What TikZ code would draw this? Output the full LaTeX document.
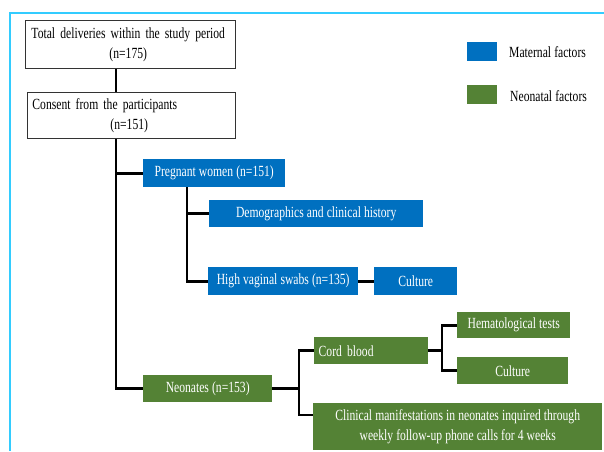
\documentclass[tikz,border=0pt]{standalone}
\usepackage{fontspec}
\setmainfont{Liberation Serif}[FakeStretch=0.75]
\usetikzlibrary{calc}
\definecolor{matblue}{RGB}{0,112,192}
\definecolor{neogreen}{RGB}{84,130,53}
\definecolor{framecol}{RGB}{51,204,255}
\newcommand{\myfont}{\fontsize{15.5}{20}\selectfont\spaceskip=3.1pt plus 1pt minus 0.5pt\relax}
\tikzset{
  txt/.style={font=\myfont},
  wbox/.style={txt, draw=black!80, line width=0.9pt, fill=white, anchor=north west, inner sep=0pt, align=left},
  bbox/.style={txt, fill=matblue, text=white, anchor=north west, inner sep=0pt, align=center},
  gbox/.style={txt, fill=neogreen, text=white, anchor=north west, inner sep=0pt, align=center},
  conn/.style={line width=2.6pt, black, line join=miter},
  legsq/.style={anchor=north west, inner sep=0pt, minimum width=30pt, minimum height=19pt},
}
\begin{document}
\begin{tikzpicture}[x=1pt,y=-1pt]
\useasboundingbox (0,0) rectangle (604,451);
% frame
\draw[framecol, line width=1.2pt] (604,13) -- (10,13) -- (10,451);
% white boxes
\node[wbox, minimum width=210pt, minimum height=48pt, text width=204pt] (total) at (25,20)
  {\hspace*{3pt}Total deliveries within the study period\\\hspace*{81pt}(n=175)};
\node[wbox, minimum width=208pt, minimum height=46pt, text width=202pt] (consent) at (27,92)
  {\hspace*{2pt}Consent from the participants\\\hspace*{80pt}(n=151)};
% maternal
\node[bbox, minimum width=142pt, minimum height=28pt] (pw) at (143,159) {Pregnant women (n=151)};
\node[bbox, minimum width=214pt, minimum height=27pt] (demo) at (209,200) {Demographics and clinical history};
\node[bbox, minimum width=150pt, minimum height=28pt] (hvs) at (208,267) {High vaginal swabs (n=135)};
\node[bbox, minimum width=83pt, minimum height=28pt] (cult1) at (374,267) {Culture};
% neonatal
\node[gbox, minimum width=129pt, minimum height=27pt] (neo) at (143,375) {Neonates (n=153)};
\node[gbox, minimum width=114pt, minimum height=27pt, text width=105pt, align=left] (cord) at (314,337) {Cord blood};
\node[gbox, minimum width=289pt, minimum height=47pt] (clin) at (313,403)
  {Clinical manifestations in neonates inquired through\\weekly follow-up phone calls for 4 weeks};
\node[gbox, minimum width=113pt, minimum height=26pt] (hema) at (457,312) {Hematological tests};
\node[gbox, minimum width=111pt, minimum height=27pt] (cult2) at (457,357) {Culture};
% legend
\node[legsq, fill=matblue] (lm) at (467,42) {};
\node[txt, anchor=west, inner sep=0pt] (lmt) at (509,52) {Maternal factors};
\node[legsq, fill=neogreen] (ln) at (467,85) {};
\node[txt, anchor=west, inner sep=0pt] (lnt) at (510,96) {Neonatal factors};
% connector coordinates
\coordinate (tr) at (116,0);
\coordinate (b1) at (187,0);
\coordinate (b2) at (299,0);
\coordinate (b3) at (442,0);
\coordinate (clinin) at (313,415);
% connectors
\draw[conn] (total.south -| tr) -- (consent.north -| tr);
\draw[conn] (consent.south -| tr) |- (neo.west);
\draw[conn] (tr |- pw.west) -- (pw.west);
\draw[conn] (pw.south -| b1) |- (hvs.west);
\draw[conn] (b1 |- demo.west) -- (demo.west);
\draw[conn] (hvs.east) -- (cult1.west);
\draw[conn] (neo.east) -- (neo.east -| b2);
\draw[conn] (cord.west) -| (clinin -| b2) -- (clinin);
\draw[conn] (cord.east) -- (cord.east -| b3);
\draw[conn] (hema.west) -| (b3 |- cult2.west) -- (cult2.west);
\end{tikzpicture}
\end{document}
